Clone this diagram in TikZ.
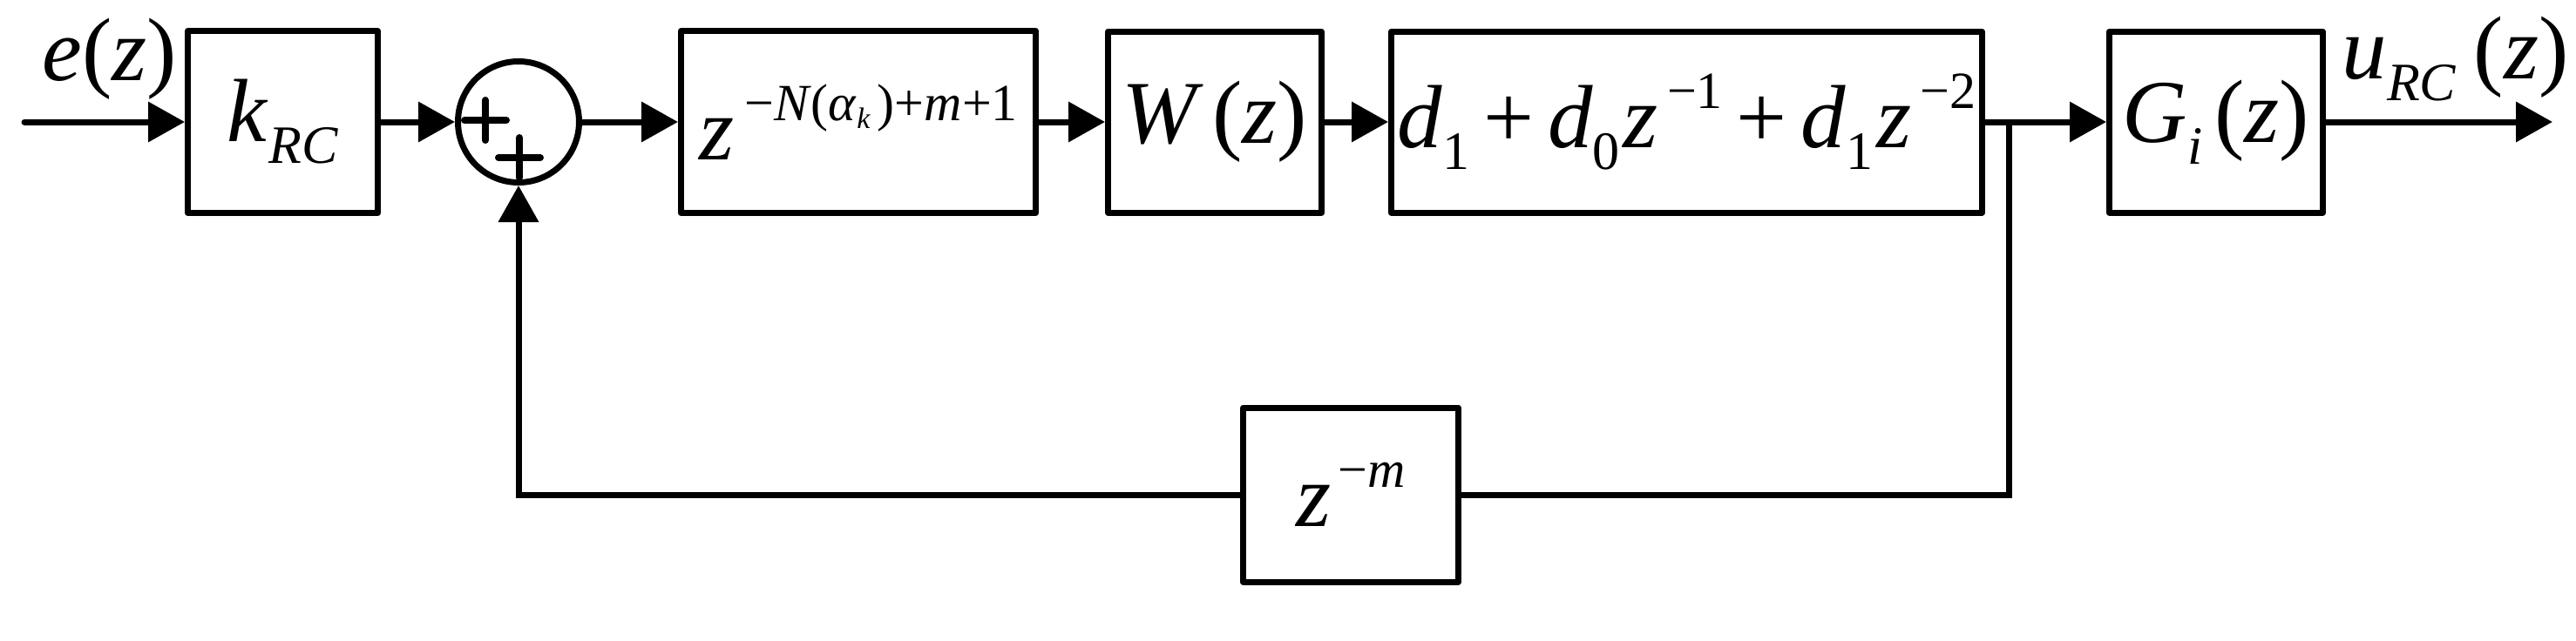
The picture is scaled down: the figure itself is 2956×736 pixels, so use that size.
\documentclass[tikz,border=0pt]{standalone}
\usepackage{fontspec}
\setmainfont{Liberation Serif}
\usetikzlibrary{arrows.meta}
\newcommand{\SupT}[1]{\raisebox{45pt}{\fontsize{60}{60}\selectfont #1}}
\newcommand{\SubT}[1]{\raisebox{-25pt}{\fontsize{62}{62}\selectfont #1}}
\begin{document}
\begin{tikzpicture}[x=1pt,y=-1pt, line width=7pt,
  blk/.style={draw, rectangle, inner sep=0pt, line join=round, font=\fontsize{103}{110}\selectfont},
  sumnode/.style={draw, circle, inner sep=0pt, minimum size=139pt},
  lbl/.style={inner sep=0pt, font=\fontsize{103}{110}\selectfont},
  conn/.style={-{Triangle[length=42pt,width=45pt]}},
  plusbar/.style={line width=8pt, line cap=round}]
\useasboundingbox (0,0) rectangle (2956,736);
% blocks
\node[blk, minimum width=218pt, minimum height=209pt] (k) at (324.5,140) {\textit{k}\SubT{\textit{RC}}};
\node[sumnode] (sum) at (595,140) {};
\node[blk, minimum width=407pt, minimum height=209pt] (zn) at (985,140)
  {\textit{z}\hspace{12pt}\SupT{−\textit{N}(\textit{α}\raisebox{-9pt}{\fontsize{34}{34}\selectfont\textit{k}}\hspace{8pt})+\textit{m}+1}};
\node[blk, minimum width=245pt, minimum height=208pt] (w) at (1394,140) {\textit{W}\hspace{10pt}(\textit{z})};
\node[blk, minimum width=678pt, minimum height=208pt] (d) at (1935.5,140)
  {\textit{d}\SubT{1}\hspace{16pt}+\hspace{16pt}\textit{d}\SubT{0}\hspace{4pt}\textit{z}\hspace{10pt}\SupT{−1}\hspace{16pt}+\hspace{16pt}\textit{d}\SubT{1}\hspace{4pt}\textit{z}\hspace{10pt}\SupT{−2}};
\node[blk, minimum width=245pt, minimum height=208pt] (g) at (2543,140)
  {\raisebox{-8pt}{\textit{G}\SubT{\textit{i}}\hspace{14pt}(\textit{z})}};
\node[blk, minimum width=247pt, minimum height=200pt] (zm) at (1550,568) {\textit{z}\hspace{8pt}\SupT{−\textit{m}}};
% labels
\node[lbl, anchor=base west] (ez) at (45,92) {\textit{e}(\textit{z})};
\node[lbl, anchor=base west] (uz) at (2684,90) {\textit{u}\SubT{\textit{RC}}\hspace{20pt}(\textit{z})};
% plus signs in summing junction
\draw[plusbar] (533,138) -- (581,138) (557,115) -- (557,161);
\draw[plusbar] (572,181) -- (620,181) (596,158) -- (596,204);
% coordinates
\coordinate (in) at (28,140);
\coordinate (br) at (2305,140);
\coordinate (out) at (2929,140);
% connectors
\draw[conn, line cap=round] (in) -- (k);
\draw[conn] (k) -- (sum);
\draw[conn] (sum) -- (zn);
\draw[conn] (zn) -- (w);
\draw[conn] (w) -- (d);
\draw[conn] (d) -- (g);
\draw[conn] (g) -- (out);
\draw (br) |- (zm);
\draw[conn] (zm) -| (sum);
\end{tikzpicture}
\end{document}
